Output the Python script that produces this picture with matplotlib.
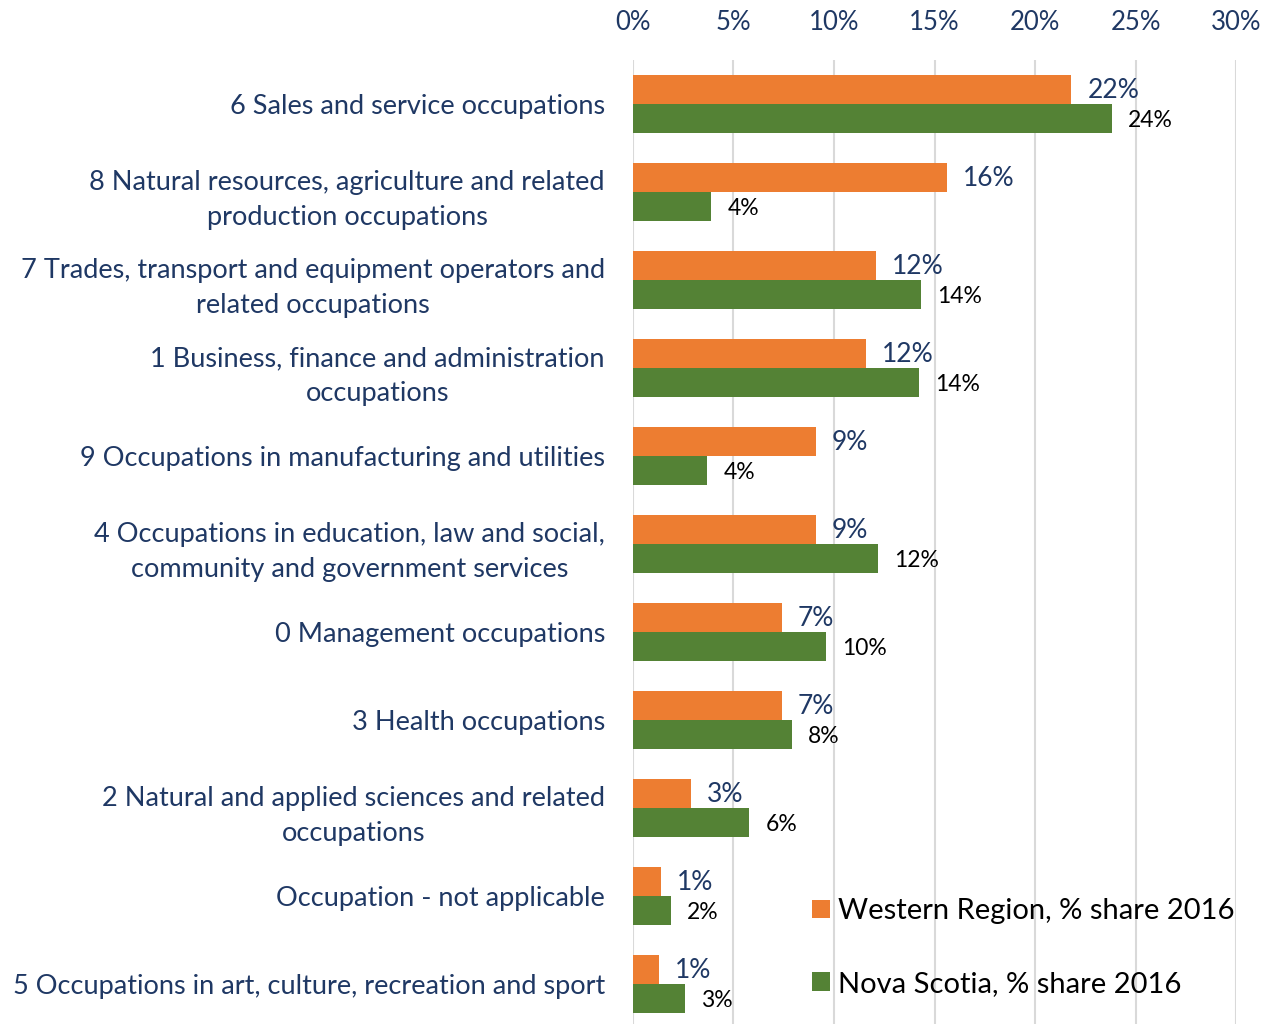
import numpy as np
import matplotlib.pyplot as plt

# 데이터
categories = [
    "6 Sales and service occupations",
    "8 Natural resources, agriculture and related\nproduction occupations",
    "7 Trades, transport and equipment operators and\nrelated occupations",
    "1 Business, finance and administration\noccupations",
    "9 Occupations in manufacturing and utilities",
    "4 Occupations in education, law and social,\ncommunity and government services",
    "0 Management occupations",
    "3 Health occupations",
    "2 Natural and applied sciences and related\noccupations",
    "Occupation - not applicable",
    "5 Occupations in art, culture, recreation and sport",
]
western = [21.8, 15.6, 12.1, 11.6, 9.1, 9.1, 7.4, 7.4, 2.9, 1.4, 1.3]
nova_scotia = [23.8, 3.9, 14.3, 14.2, 3.7, 12.2, 9.6, 7.9, 5.8, 1.9, 2.6]
ticks = [0, 5, 10, 15, 20, 25, 30]

navy = "#1F3864"
orange = "#ED7D31"
green = "#548235"

plt.rcParams["font.family"] = ["Lato", "DejaVu Sans"]

fig = plt.figure(figsize=(12.63, 10.24), dpi=100)
ax = fig.add_axes([0.501, -0.004, 0.478, 0.945])

y = np.arange(len(categories))
h = 0.33
ax.barh(y - h / 2, western, height=h, color=orange, label="Western Region, % share 2016", zorder=3)
ax.barh(y + h / 2, nova_scotia, height=h, color=green, label="Nova Scotia, % share 2016", zorder=3)

# 막대 끝 값 라벨
for i, (w, n) in enumerate(zip(western, nova_scotia)):
    ax.text(w + 0.8, i - h / 2 + 0.01, f"{w:.0f}%", color=navy, fontsize=19, va="center", ha="left")
    ax.text(n + 0.8, i + h / 2 + 0.02, f"{n:.0f}%", color="black", fontsize=16.5, va="center", ha="left")

ax.set_xlim(0, 30)
ax.set_ylim(len(categories) - 0.5, -0.5)
ax.set_xticks(ticks)
ax.set_xticklabels([f"{t}%" for t in ticks], color=navy, fontsize=18.5)
ax.xaxis.tick_top()
ax.tick_params(axis="x", length=0, pad=18)
ax.set_yticks(y)
ax.set_yticklabels(categories, color=navy, fontsize=19.5, multialignment="center", linespacing=1.5)
ax.tick_params(axis="y", length=0, pad=20)

ax.grid(axis="x", color="#D9D9D9", linewidth=1.5, zorder=0)
for s in ax.spines.values():
    s.set_visible(False)

ax.legend(loc="upper left", bbox_to_anchor=(812 / 1263, 0.123), bbox_transform=fig.transFigure,
          frameon=False, fontsize=21, borderpad=0, borderaxespad=0,
          handlelength=0.6, handleheight=0.6, handletextpad=0.3, labelspacing=1.6)

plt.savefig("out.png", dpi=100)
